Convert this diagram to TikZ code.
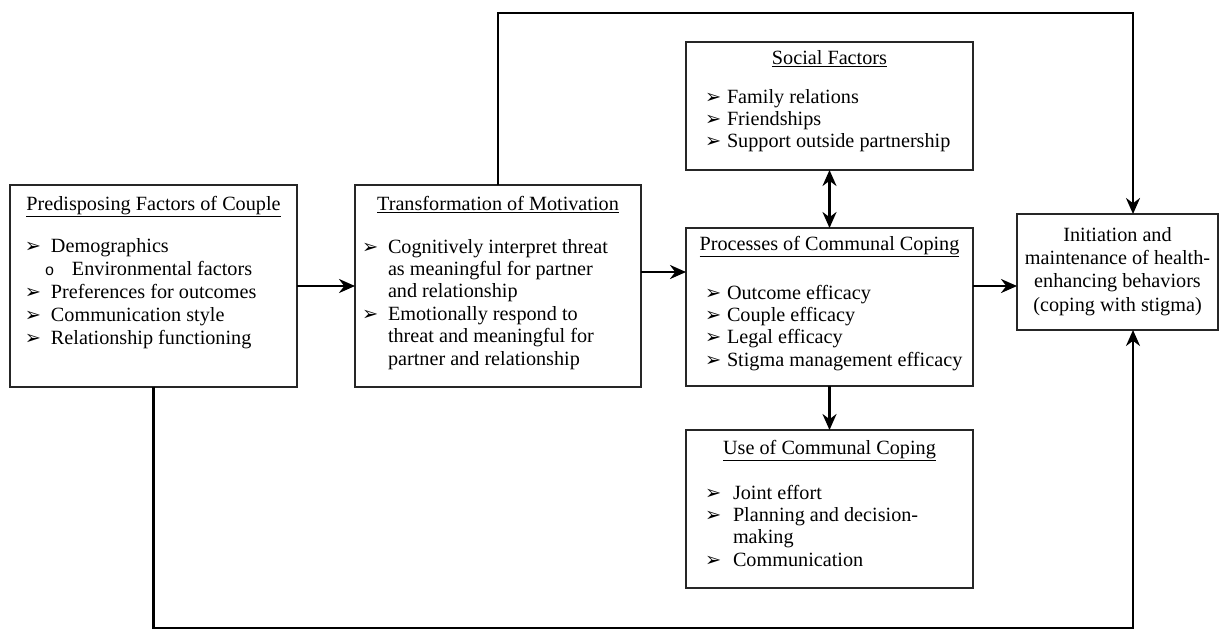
\documentclass[tikz,border=0pt]{standalone}
\usepackage{fontspec}
\setmainfont{Liberation Serif}
\setmonofont{Liberation Mono}
\newfontfamily\symbolfont{DejaVu Sans}
\usetikzlibrary{positioning, arrows.meta, shadows}
\newcommand{\flowarrow}{-{Stealth[length=3.2mm,width=2.8mm]}}
\newcommand{\twowayarrow}{{Stealth[length=3.2mm,width=2.8mm]}-{Stealth[length=3.2mm,width=2.8mm]}}
\newcommand{\pointer}{{\symbolfont\fontsize{11}{11}\selectfont ➢}}
\newlength{\bulletskip}
\newlength{\textskip}
\newcommand{\indents}[2]{\setlength{\bulletskip}{#1}\setlength{\textskip}{#2}}
\newcommand{\heading}[2]{{\centering\rule{0pt}{#1}\underline{#2}\par}}
\newcommand{\entry}[1]{\par\noindent\hangindent=\textskip\hangafter=1%
  \hspace*{\bulletskip}\makebox[\dimexpr\textskip-\bulletskip\relax][l]{\pointer}#1\par}
\newcommand{\subentry}[1]{\par\noindent\hangindent=1.24cm\hangafter=1%
  \hspace*{0.7cm}\makebox[0.54cm][l]{\fontsize{9}{9}\selectfont\texttt{o}}#1\par}
\newcommand{\panelbody}[3]{\begin{minipage}[c][#2][t]{#1}%
  \fontsize{11.5}{12.8}\selectfont\raggedright #3\end{minipage}}

\begin{document}
\begin{tikzpicture}[
    panel/.style={draw=black!85, fill=white, line width=0.8pt, inner sep=0pt, outer sep=0pt,
      drop shadow={shadow xshift=0.7pt, shadow yshift=-0.7pt, opacity=0.3}},
    link/.style={line width=1.4pt}
  ]
  \useasboundingbox (0,0) rectangle (24.4,-12.6);

  % boxes
  \node[panel, anchor=north west] (pred) at (0.2,-3.7) {\panelbody{5.74cm}{4.04cm}{%
      \fontsize{11.5}{13.1}\selectfont
      \indents{0.3cm}{0.82cm}%
      \heading{0.5cm}{Predisposing Factors of Couple}\vspace{0.38cm}
      \entry{Demographics}
      \subentry{Environmental factors}
      \entry{Preferences for outcomes}
      \entry{Communication style}
      \entry{Relationship functioning}}};
  \node[panel, right=1.16cm of pred] (trans) {\panelbody{5.72cm}{4.04cm}{%
      \indents{0.14cm}{0.66cm}%
      \heading{0.5cm}{Transformation of Motivation}\vspace{0.41cm}
      \entry{Cognitively interpret threat\newline as meaningful for partner\newline and relationship}
      \entry{Emotionally respond to\newline threat and meaningful for\newline partner and relationship}}};
  \node[panel, right=0.9cm of trans.north east, anchor=north west, yshift=-0.86cm] (proc) {\panelbody{5.74cm}{3.16cm}{%
      \indents{0.38cm}{0.82cm}%
      \heading{0.44cm}{Processes of Communal Coping}\vspace{0.53cm}
      \entry{Outcome efficacy}
      \entry{Couple efficacy}
      \entry{Legal efficacy}
      \entry{Stigma management efficacy}}};
  \node[panel, above=1.16cm of proc] (social) {\panelbody{5.74cm}{2.56cm}{%
      \indents{0.38cm}{0.82cm}%
      \heading{0.44cm}{Social Factors}\vspace{0.33cm}
      \entry{Family relations}
      \entry{Friendships}
      \entry{Support outside partnership}}};
  \node[panel, below=0.88cm of proc] (use) {\panelbody{5.74cm}{3.16cm}{%
      \indents{0.38cm}{0.94cm}%
      \heading{0.48cm}{Use of Communal Coping}\vspace{0.45cm}
      \entry{Joint effort}
      \entry{Planning and decision-\newline making}
      \entry{Communication}}};
  \node[panel, right=0.88cm of proc, yshift=0.7cm] (init) {\begin{minipage}[c][2.32cm][t]{4.02cm}%
      \fontsize{11.5}{13.3}\selectfont\centering
      \rule{0pt}{0.54cm}Initiation and\\maintenance of health-\\enhancing behaviors\\(coping with stigma)\end{minipage}};

  % rails of the two feedback loops
  \coordinate (toprail) at (22.66,-0.26);
  \coordinate (bottomrail) at (22.66,-12.56);

  % connectors
  \draw[link, \flowarrow] (pred) -- (trans);
  \draw[link, \flowarrow] (trans.east |- init) -- (proc.west |- init);
  \draw[link, \flowarrow] (proc.east |- pred) -- (init.west |- pred);
  \draw[link, \twowayarrow] (social) -- (proc);
  \draw[link, \flowarrow] (proc) -- (use);
  \draw[link, \flowarrow] (trans.north) |- (toprail) -- (toprail |- init.north);
  \draw[link, \flowarrow] (pred.south) |- (bottomrail) -- (bottomrail |- init.south);
\end{tikzpicture}
\end{document}
